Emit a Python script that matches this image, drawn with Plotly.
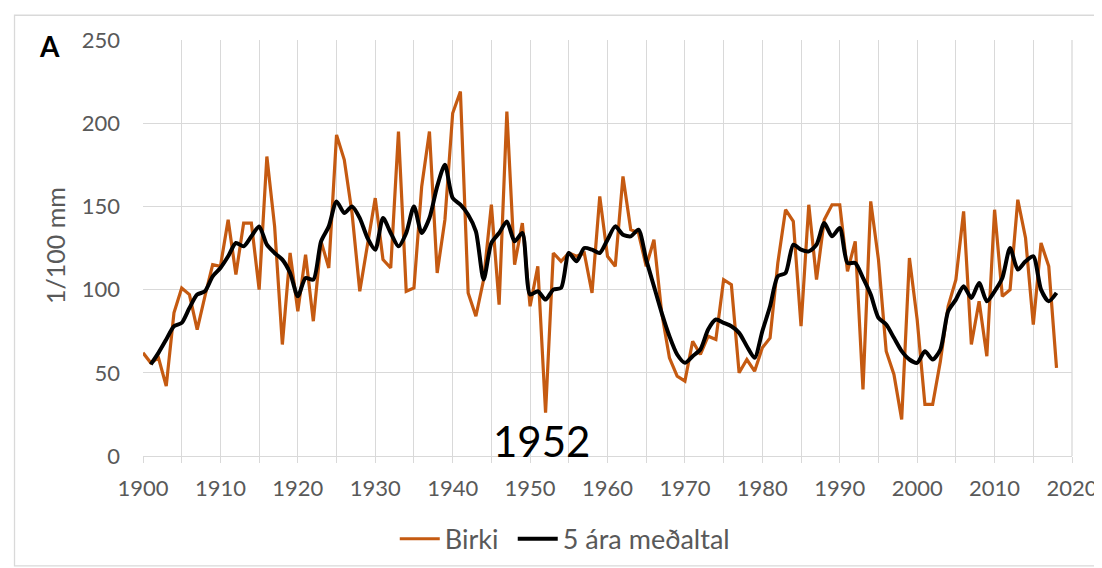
import plotly.graph_objects as go

years = list(range(1900, 2019))
birki = [
    62, 56, 59, 42, 86, 101, 97, 76, 96, 115,
    114, 142, 109, 140, 140, 100, 180, 138, 67, 122,
    87, 121, 81, 129, 113, 193, 178, 146, 99, 128,
    155, 118, 113, 195, 99, 101, 162, 195, 110, 142,
    206, 219, 98, 84, 106, 151, 91, 207, 115, 140,
    90, 114, 26, 122, 117, 122, 120, 122, 98, 156,
    120, 114, 168, 136, 134, 114, 130, 86, 59, 48,
    45, 69, 61, 72, 70, 106, 103, 50, 58, 51,
    65, 71, 116, 148, 141, 78, 151, 106, 142, 151,
    151, 111, 129, 40, 153, 118, 63, 49, 22, 119,
    82, 31, 31, 57, 90, 106, 147, 67, 93, 60,
    148, 96, 100, 154, 131, 79, 128, 114, 53,
]
mean_years = list(range(1901, 2019))
mean5 = [
    55, 62, 70, 78, 80, 89, 97, 99, 108,
    113, 120, 128, 126, 132, 138, 127, 122, 118, 110,
    96, 107, 106, 129, 138, 153, 146, 150, 143, 131,
    124, 143, 134, 126, 134, 150, 134, 143, 162, 175,
    155, 151, 145, 135, 106, 128, 134, 141, 129, 134,
    97, 99, 94, 100, 101, 122, 117, 125, 124, 122,
    130, 138, 133, 132, 136, 118, 102, 86, 72, 61,
    56, 60, 64, 76, 82, 80, 78, 74, 66, 59,
    75, 90, 108, 110, 127, 124, 123, 127, 140, 132,
    137, 116, 116, 107, 97, 83, 79, 71, 63, 58,
    56, 63, 58, 64, 87, 94, 102, 95, 104, 93,
    99, 107, 125, 112, 117, 120, 100, 93, 98,
]
x_ticks = list(range(1900, 2021, 10))
y_ticks = [0, 50, 100, 150, 200, 250]

FONT = "Lato"
GRAY = "#595959"
GRID = "#D9D9D9"

fig = go.Figure()
fig.add_trace(go.Scatter(
    x=years, y=birki, mode="lines", name="Birki",
    line=dict(color="#C55A11", width=3.2), legend="legend",
))
fig.add_trace(go.Scatter(
    x=mean_years, y=mean5, mode="lines", name="5 ára meðaltal",
    line=dict(color="#000000", width=4, shape="spline", smoothing=0.7),
    legend="legend2",
))

legend_common = dict(
    orientation="h", xanchor="left", y=-0.2, yanchor="middle",
    font=dict(family=FONT, size=27, color=GRAY),
    itemwidth=40, bgcolor="rgba(0,0,0,0)",
)

fig.update_layout(
    width=1102, height=568,
    margin=dict(l=135, r=38, t=32, b=116),
    paper_bgcolor="white", plot_bgcolor="white",
    font=dict(family=FONT, color=GRAY, size=22),
    showlegend=True,
    legend=dict(x=0.271, **legend_common),
    legend2=dict(x=0.398, **legend_common),
    xaxis=dict(
        range=[1900, 2020], tickvals=x_ticks, ticktext=[str(v) for v in x_ticks],
        showgrid=True, gridcolor=GRID, gridwidth=1.3,
        ticks="outside", ticklen=6, tickcolor=GRID, tickwidth=1.3,
        minor=dict(dtick=5, tick0=1900, showgrid=True, gridcolor=GRID, gridwidth=1.3,
                   ticks="outside", ticklen=6, tickcolor=GRID, tickwidth=1.3),
        showline=True, linecolor=GRID, linewidth=1.3, mirror=False,
        zeroline=False, ticklabelstandoff=6,
        tickfont=dict(family=FONT, size=22, color=GRAY),
    ),
    yaxis=dict(
        range=[0, 250], tickvals=y_ticks,
        showgrid=True, gridcolor=GRID, gridwidth=1.3,
        zeroline=False, showline=False, ticks="",
        ticklabelstandoff=22,
        tickfont=dict(family=FONT, size=22, color=GRAY),
    ),
    annotations=[
        dict(text="A", xref="paper", yref="paper", x=-0.101, y=0.985,
             showarrow=False, xanchor="center", yanchor="middle",
             font=dict(family=FONT, size=28, color="black", weight="bold")),
        dict(text="1/100 mm", xref="paper", yref="paper", x=-0.0947, y=0.505,
             showarrow=False, textangle=-90, xanchor="center", yanchor="middle",
             font=dict(family=FONT, size=25, color=GRAY)),
        dict(text="1952", xref="x", yref="y", x=1951.5, y=0, yshift=-12,
             showarrow=False, xanchor="center", yanchor="bottom",
             font=dict(family=FONT, size=42, color="black")),
    ],
    shapes=[
        dict(type="rect", xref="paper", yref="paper",
             x0=-0.1383, x1=1.0355, y0=-0.264, y1=1.0595,
             line=dict(color=GRID, width=1.3), fillcolor="rgba(0,0,0,0)", layer="below"),
        dict(type="line", xref="paper", yref="paper", x0=1, x1=1, y0=0, y1=1,
             line=dict(color=GRID, width=1.3), layer="below"),
    ],
)

fig.write_html("out.html")
